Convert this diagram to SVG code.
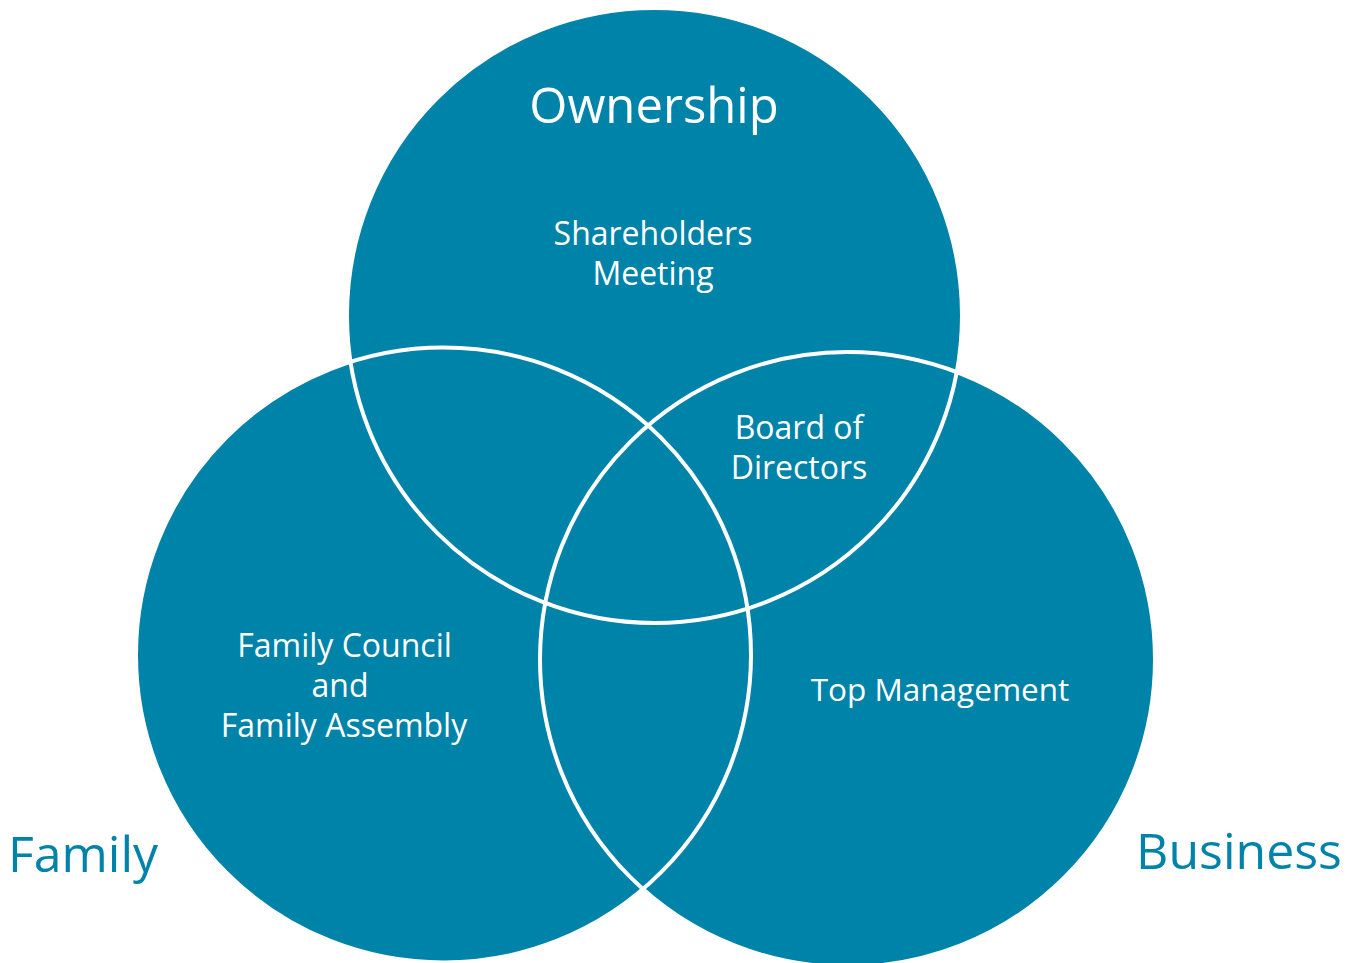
<svg xmlns="http://www.w3.org/2000/svg" width="1362" height="963" viewBox="0 0 1362 963">
  <style>
    .fill { fill: #0083A9; }
    .ring { fill: none; stroke: #FFFFFF; stroke-width: 4; }
    .title { font-family: "Open Sans", "Noto Sans", sans-serif; font-size: 50px; text-anchor: middle; }
    .label { font-family: "Open Sans", "Noto Sans", sans-serif; font-size: 32px; fill: #FFFFFF; text-anchor: middle; }
    .inner { fill: #FFFFFF; }
    .outer { fill: #0083A9; }
  </style>
  <rect width="1362" height="963" fill="#FFFFFF"/>

  <!-- circle bodies -->
  <g id="node-ownership-fill">
    <circle class="fill" cx="654.5" cy="315.5" r="307.5"/>
  </g>
  <g id="node-family-fill">
    <circle class="fill" cx="443.5" cy="655" r="307.5"/>
  </g>
  <g id="node-business-fill">
    <circle class="fill" cx="847.5" cy="659.5" r="307.5"/>
  </g>

  <!-- white outlines drawn over all fills so every overlap edge shows -->
  <g id="connectors">
    <circle class="ring" cx="654.5" cy="315.5" r="307.5"/>
    <circle class="ring" cx="443.5" cy="655" r="307.5"/>
    <circle class="ring" cx="847.5" cy="659.5" r="307.5"/>
  </g>

  <g id="node-ownership">
    <text class="title inner" x="654" y="123" style="font-size:49px">Ownership</text>
    <text class="label" x="653" y="245">Shareholders</text>
    <text class="label" x="653" y="285">Meeting</text>
  </g>

  <g id="node-board">
    <text class="label" x="799" y="439">Board of</text>
    <text class="label" x="799" y="479">Directors</text>
  </g>

  <g id="node-family">
    <text class="label" x="344.5" y="657">Family Council</text>
    <text class="label" x="340" y="697">and</text>
    <text class="label" x="344" y="737">Family Assembly</text>
    <text class="title outer" x="83" y="872">Family</text>
  </g>

  <g id="node-business">
    <text class="label" x="940" y="701" style="font-size:31.5px">Top Management</text>
    <text class="title outer" x="1239" y="869">Business</text>
  </g>
</svg>
